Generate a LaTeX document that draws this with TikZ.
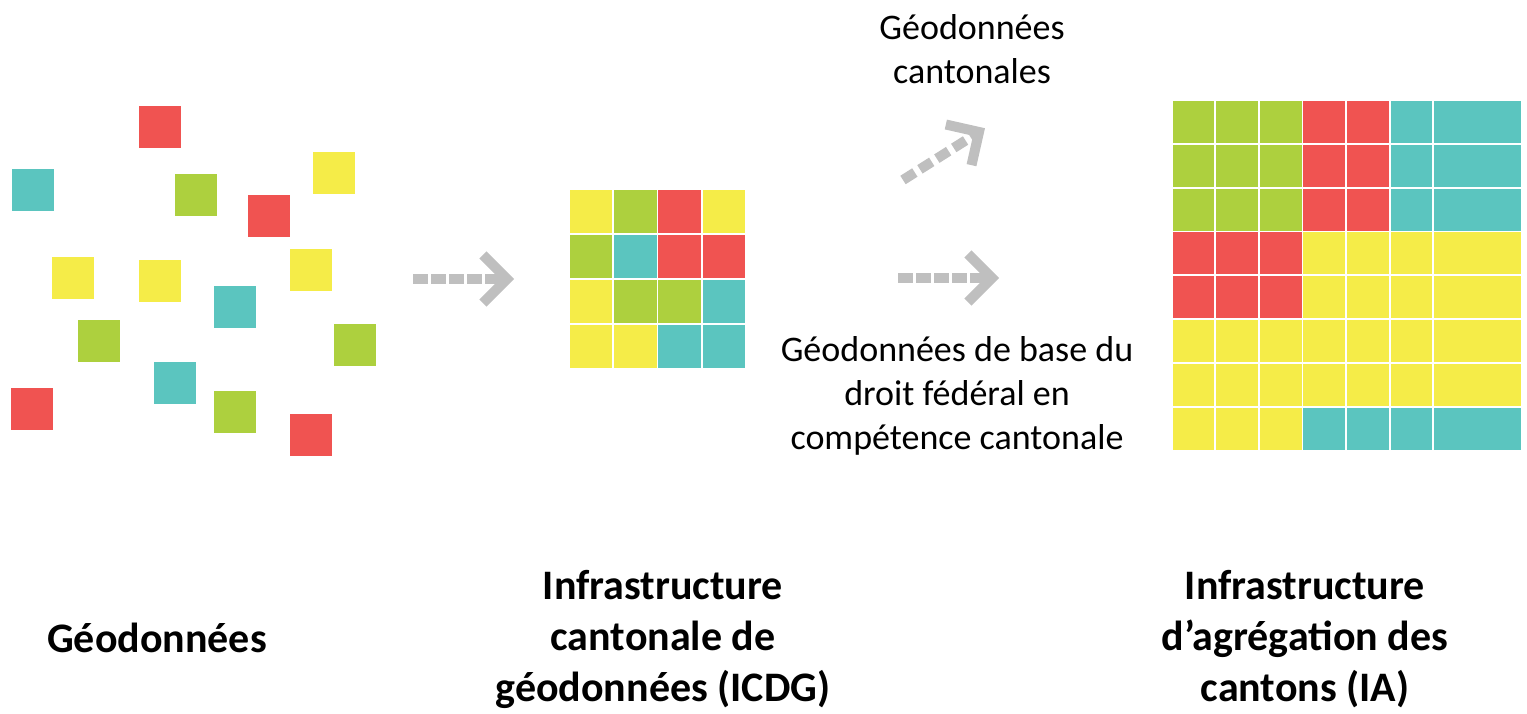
\documentclass[tikz,border=0pt]{standalone}
\usepackage{fontspec}
\setmainfont{Carlito}
\usetikzlibrary{calc}
\definecolor{cred}{RGB}{240,83,81}
\definecolor{cgreen}{RGB}{173,208,62}
\definecolor{ccyan}{RGB}{91,197,191}
\definecolor{cyellow}{RGB}{245,236,72}
\definecolor{arrowgray}{RGB}{191,191,191}
\tikzset{
  cell/.style={draw=white, line width=1.8pt},
  shaft/.style={draw=arrowgray, line width=10pt, dash pattern=on 15pt off 3pt},
  dshaft/.style={draw=arrowgray, line width=10pt, dash pattern=on 14pt off 6pt},
  chev/.style={draw=arrowgray, line width=10pt, miter limit=10, line join=miter},
  lbl/.style={font=\fontsize{36}{44}\selectfont, align=center, inner sep=0pt},
  title/.style={font=\bfseries\fontsize{42}{51}\selectfont, align=center, inner sep=0pt},
}
\begin{document}
\begin{tikzpicture}[x=1pt,y=-1pt]
\useasboundingbox (0,0) rectangle (1527,714);
% scattered geodata squares
\foreach \x/\y/\c in {138/105/cred, 11/168/ccyan, 174/173/cgreen, 312/151/cyellow,
  247/194/cred, 51/256/cyellow, 138/259/cyellow, 289/248/cyellow, 213/285/ccyan,
  77/319/cgreen, 333/323/cgreen, 153/361/ccyan, 10/387/cred, 213/390/cgreen, 289/413/cred}
  \path[fill=\c, draw=white, line width=0.8pt] (\x,\y) rectangle ++(43,43);
% small grid (ICDG)
\foreach \c [count=\i from 0] in {cyellow,cgreen,cred,cyellow,
    cgreen,ccyan,cred,cred,
    cyellow,cgreen,cgreen,ccyan,
    cyellow,cyellow,ccyan,ccyan} {
  \pgfmathtruncatemacro\col{mod(\i,4)}
  \pgfmathtruncatemacro\row{div(\i,4)}
  \path[cell, fill=\c] (569+\col*44.2, 189.3+\row*45) rectangle ++(44.2,45);
}
% large grid (IA)
\foreach \c [count=\i from 0] in {
    cgreen,cgreen,cgreen,cred,cred,ccyan,ccyan,
    cgreen,cgreen,cgreen,cred,cred,ccyan,ccyan,
    cgreen,cgreen,cgreen,cred,cred,ccyan,ccyan,
    cred,cred,cred,cyellow,cyellow,cyellow,cyellow,
    cred,cred,cred,cyellow,cyellow,cyellow,cyellow,
    cyellow,cyellow,cyellow,cyellow,cyellow,cyellow,cyellow,
    cyellow,cyellow,cyellow,cyellow,cyellow,cyellow,cyellow,
    cyellow,cyellow,cyellow,ccyan,ccyan,ccyan,ccyan} {
  \pgfmathtruncatemacro\col{mod(\i,7)}
  \pgfmathtruncatemacro\row{div(\i,7)}
  \pgfmathsetmacro\xx{\col<6 ? 1171.7+\col*43.6 : 1433.3}
  \pgfmathsetmacro\ww{\col<6 ? 43.6 : 88.4}
  \path[cell, fill=\c] (\xx, 100+\row*43.84) rectangle ++(\ww,43.84);
}
% arrows
\coordinate (a1s) at (413,279); \coordinate (a1t) at (507,279);
\draw[shaft] (a1s) -- ($(a1t)+(-5,0)$);
\draw[chev] ($(a1t)!34pt!45:(a1s)$) -- (a1t) -- ($(a1t)!34pt!-45:(a1s)$);
\coordinate (a2s) at (898,278); \coordinate (a2t) at (992,278);
\draw[shaft] (a2s) -- ($(a2t)+(-5,0)$);
\draw[chev] ($(a2t)!34pt!45:(a2s)$) -- (a2t) -- ($(a2t)!34pt!-45:(a2s)$);
\coordinate (a3s) at (903,180); \coordinate (a3t) at (979,132);
\draw[dshaft] (a3s) -- ($(a3t)!5pt!(a3s)$);
\draw[chev] ($(a3t)!34pt!45:(a3s)$) -- (a3t) -- ($(a3t)!34pt!-45:(a3s)$);
% labels
\node[lbl] (geocant) at (972,49) {Géodonnées\\cantonales};
\node[lbl] (geobase) at (957,396) {Géodonnées de base du\\droit fédéral en\\compétence cantonale};
\node[title] (t1) at (157,638) {Géodonnées};
\node[title] (t2) at (663,639) {Infrastructure\\cantonale de\\géodonnées (ICDG)};
\node[title] (t3) at (1305,639) {Infrastructure\\d’agrégation des\\cantons (IA)};
\end{tikzpicture}
\end{document}
